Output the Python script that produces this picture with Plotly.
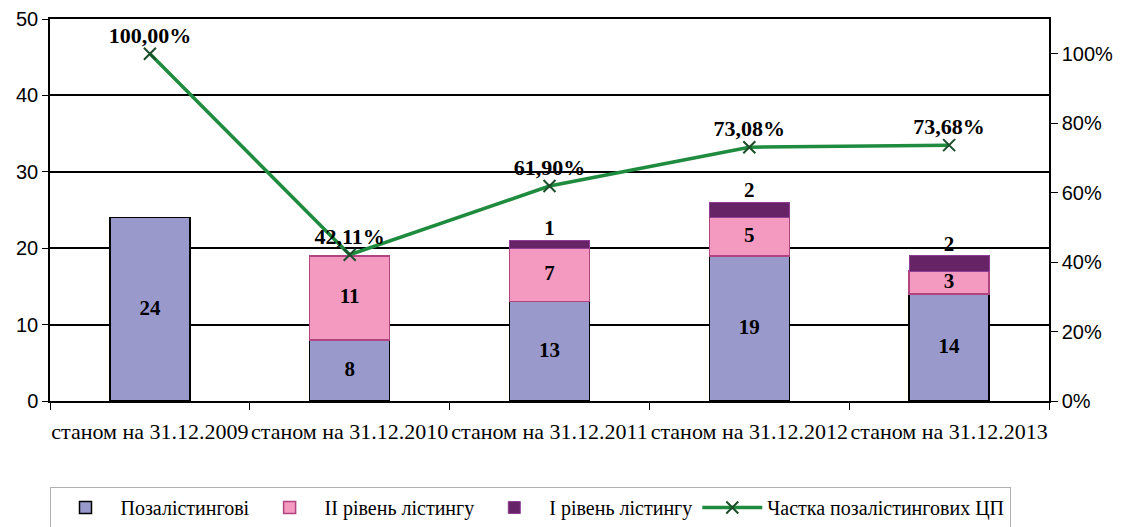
import plotly.graph_objects as go

categories = ["станом на 31.12.2009", "станом на 31.12.2010", "станом на 31.12.2011",
              "станом на 31.12.2012", "станом на 31.12.2013"]
pozalist = [24, 8, 13, 19, 14]
level2 = [None, 11, 7, 5, 3]
level1 = [None, None, 1, 2, 2]
share = [1.0, 0.4211, 0.6190, 0.7308, 0.7368]
share_labels = ["100,00%", "42,11%", "61,90%", "73,08%", "73,68%"]

serif = "Liberation Serif"
sans = "Liberation Sans"

def z(v):
    return v if v else 0

lab_font = dict(family=serif, size=21, color="#000000", weight="bold")

fig = go.Figure()
fig.add_trace(go.Bar(
    x=categories, y=pozalist, name="Позалістингові",
    marker=dict(color="#9999CC", line=dict(color="#000000", width=1.5)),
    width=0.4,
))
fig.add_trace(go.Bar(
    x=categories, y=level2, name="ІІ рівень лістингу",
    marker=dict(color="#F49AC1", line=dict(color="#B0457F", width=1.5)),
    width=0.4,
))
fig.add_trace(go.Bar(
    x=categories, y=level1, name="І рівень лістингу",
    marker=dict(color="#662366", line=dict(color="#8E3E94", width=1)),
    width=0.4,
))

# segment value labels, positioned at data midpoints of each stacked segment
mid1 = [p / 2 for p in pozalist]
mid2 = [p + z(b) / 2 if b else None for p, b in zip(pozalist, level2)]
top3 = [p + z(b) + z(c) if c else None for p, b, c in zip(pozalist, level2, level1)]
fig.add_trace(go.Scatter(
    x=categories, y=mid1, mode="text", text=[str(v) for v in pozalist],
    textposition="middle center", textfont=lab_font, showlegend=False, hoverinfo="skip",
))
fig.add_trace(go.Scatter(
    x=categories, y=mid2, mode="text", text=[str(v) if v else "" for v in level2],
    textposition="middle center", textfont=lab_font, showlegend=False, hoverinfo="skip",
))
fig.add_trace(go.Scatter(
    x=categories, y=top3, mode="text", text=[str(v) if v else "" for v in level1],
    textposition="top center", textfont=lab_font, showlegend=False, hoverinfo="skip",
    cliponaxis=False,
))

fig.add_trace(go.Scatter(
    x=categories, y=share, name="Частка позалістингових ЦП", yaxis="y2",
    mode="lines+markers",
    line=dict(color="#1E8B3E", width=3.5),
    marker=dict(symbol="x-thin", size=12, line=dict(color="#1B4D2A", width=2), color="#1B4D2A"),
    cliponaxis=False,
))
fig.add_trace(go.Scatter(
    x=categories, y=share, yaxis="y2", mode="markers+text",
    marker=dict(size=7, opacity=0),
    text=share_labels, textposition="top center",
    textfont=dict(family=serif, size=22, color="#000000", weight="bold"),
    cliponaxis=False, showlegend=False, hoverinfo="skip",
))

# page has an 8px body margin; figure sized so the plot area lands where the reference's does
W, H = 1122, 519
fig.update_layout(
    width=W, height=H,
    margin=dict(l=42, r=81, t=11, b=126, autoexpand=False),
    paper_bgcolor="white", plot_bgcolor="white",
    barmode="stack",
    showlegend=True,
    legend=dict(
        orientation="h", xref="container", yref="container",
        x=522 / W, xanchor="center", y=1 - 479 / H, yanchor="top",
        font=dict(family=serif, size=20, color="#000000"),
        bordercolor="#B0B0B0", borderwidth=1, bgcolor="white",
        itemwidth=60, traceorder="normal",
    ),
    xaxis=dict(
        type="category", range=[-0.5, 4.5], automargin=False,
        showline=True, linecolor="#000000", linewidth=2, mirror=True,
        ticks="outside", tickson="boundaries", ticklen=7, tickcolor="#000000",
        tickfont=dict(family=serif, size=22, color="#000000"), tickangle=0,
        ticklabelstandoff=10,
        showgrid=False,
    ),
    yaxis=dict(
        range=[0, 50], dtick=10, automargin=False,
        showline=True, linecolor="#000000", linewidth=1.5,
        ticks="outside", ticklen=6, tickcolor="#000000",
        tickfont=dict(family=sans, size=20, color="#000000"),
        showgrid=True, gridcolor="#000000", gridwidth=1.5,
        zeroline=False,
    ),
    yaxis2=dict(
        overlaying="y", side="right", range=[0, 1.1], automargin=False,
        tickvals=[0, 0.2, 0.4, 0.6, 0.8, 1.0], tickformat=".0%",
        showline=True, linecolor="#000000", linewidth=1.5,
        ticks="outside", ticklen=7, tickcolor="#000000",
        tickfont=dict(family=sans, size=20, color="#000000"),
        showgrid=False, zeroline=False,
    ),
)

fig.write_html("out.html")
